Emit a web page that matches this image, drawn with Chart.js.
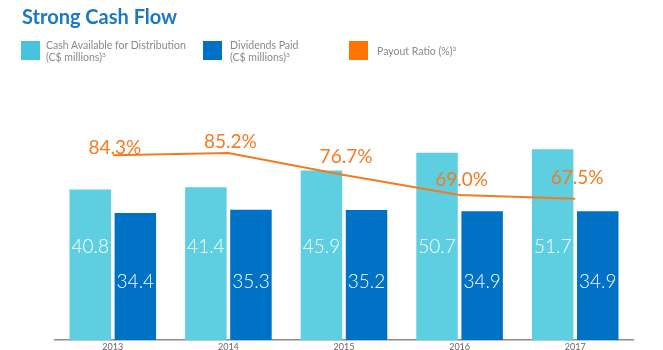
<!DOCTYPE html>
<html>
<head>
<meta charset="utf-8">
<script src="https://cdn.jsdelivr.net/npm/chart.js@4"></script>
<style>
  body { margin: 0; background: #fff; font-family: Lato, "Open Sans", sans-serif; }
  #wrap { position: relative; width: 663px; height: 350px; }
  #myChart { position: absolute; left: 0; top: 0; }
  .title { position: absolute; left: 22px; top: 4px; font-size: 20px; font-weight: 700; color: #1a79c4; }
  .key { position: absolute; top: 41px; font-size: 10.5px; line-height: 12px; color: #8a8a8a; }
  .sw { position: absolute; top: 0; left: 0; width: 19px; height: 19px; }
  .key span.t { position: absolute; left: 25px; top: -2px; white-space: nowrap; }
  sup { font-size: 6.5px; vertical-align: 4px; line-height: 0; }
</style>
</head>
<body>
<div id="wrap">
  <canvas id="myChart" width="663" height="350"></canvas>
  <div class="title">Strong Cash Flow</div>
  <div class="key" style="left:21px"><div class="sw" style="background:#47c3e0"></div><span class="t">Cash Available for Distribution<br>(C$ millions)<sup>3</sup></span></div>
  <div class="key" style="left:203px"><div class="sw" style="background:#0071c5"></div><span class="t" style="left:27px">Dividends Paid<br>(C$ millions)<sup>3</sup></span></div>
  <div class="key" style="left:349px"><div class="sw" style="background:#ff7300"></div><span class="t" style="left:28px;top:4px">Payout Ratio (%)<sup>3</sup></span></div>
</div>
<script>
const years = ["2013", "2014", "2015", "2016", "2017"];
const cashAvailable = [40.8, 41.4, 45.9, 50.7, 51.7];
const dividendsPaid = [34.4, 35.3, 35.2, 34.9, 34.9];
const payoutRatio = [84.3, 85.2, 76.7, 69.0, 67.5];

// labels inside bars sit on two fixed rows, percent labels float over the line
const valueLabels = {
  id: "valueLabels",
  afterDatasetsDraw(chart) {
    const ctx = chart.ctx;
    const area = chart.chartArea;
    const rows = [0.61, 0.758];
    ctx.save();
    ctx.textAlign = "center";
    ctx.textBaseline = "middle";
    [0, 1].forEach(d => {
      const meta = chart.getDatasetMeta(d);
      ctx.fillStyle = "#ffffff";
      ctx.font = "300 19px Lato, 'Open Sans', sans-serif";
      meta.data.forEach((bar, i) => {
        const y = area.top + (area.bottom - area.top) * rows[d];
        ctx.fillText(chart.data.datasets[d].data[i].toFixed(1), bar.x, y);
      });
    });
    const lift = [7, 11, 18, 15, 21];
    const line = chart.getDatasetMeta(2);
    ctx.fillStyle = "#f47b20";
    ctx.font = "400 19px Lato, 'Open Sans', sans-serif";
    line.data.forEach((pt, i) => {
      ctx.fillText(payoutRatio[i].toFixed(1) + "%", pt.x + 2, pt.y - lift[i]);
    });
    ctx.restore();
  }
};

var ctx = document.getElementById("myChart").getContext("2d");
var myChart = new Chart(ctx, {
  type: "bar",
  data: {
    labels: years,
    datasets: [
      {
        label: "Cash Available for Distribution",
        data: cashAvailable,
        backgroundColor: "#5ecfe0",
        yAxisID: "y",
        order: 2,
      },
      {
        label: "Dividends Paid",
        data: dividendsPaid,
        backgroundColor: "#0072c6",
        yAxisID: "y",
        order: 2,
      },
      {
        type: "line",
        label: "Payout Ratio",
        data: payoutRatio,
        borderColor: "#f57a1f",
        borderWidth: 2,
        pointRadius: 0,
        tension: 0,
        yAxisID: "y2",
        order: 1,
      },
    ],
  },
  options: {
    responsive: false,
    animation: false,
    layout: { padding: { left: 55, right: 30, top: 100, bottom: -3 } },
    plugins: { legend: { display: false }, tooltip: { enabled: false } },
    datasets: { bar: { categoryPercentage: 0.78, barPercentage: 0.92 } },
    scales: {
      x: {
        grid: { display: false, drawTicks: false },
        border: { color: "#8c8c8c", width: 1.5 },
        ticks: { color: "#666", font: { size: 9, family: "Lato, 'Open Sans', sans-serif" }, padding: 1 },
      },
      y: { display: false, min: 0, max: 65 },
      y2: { display: false, min: 12.8, max: 105.7 },
    },
  },
  plugins: [valueLabels],
});
</script>
</body>
</html>
